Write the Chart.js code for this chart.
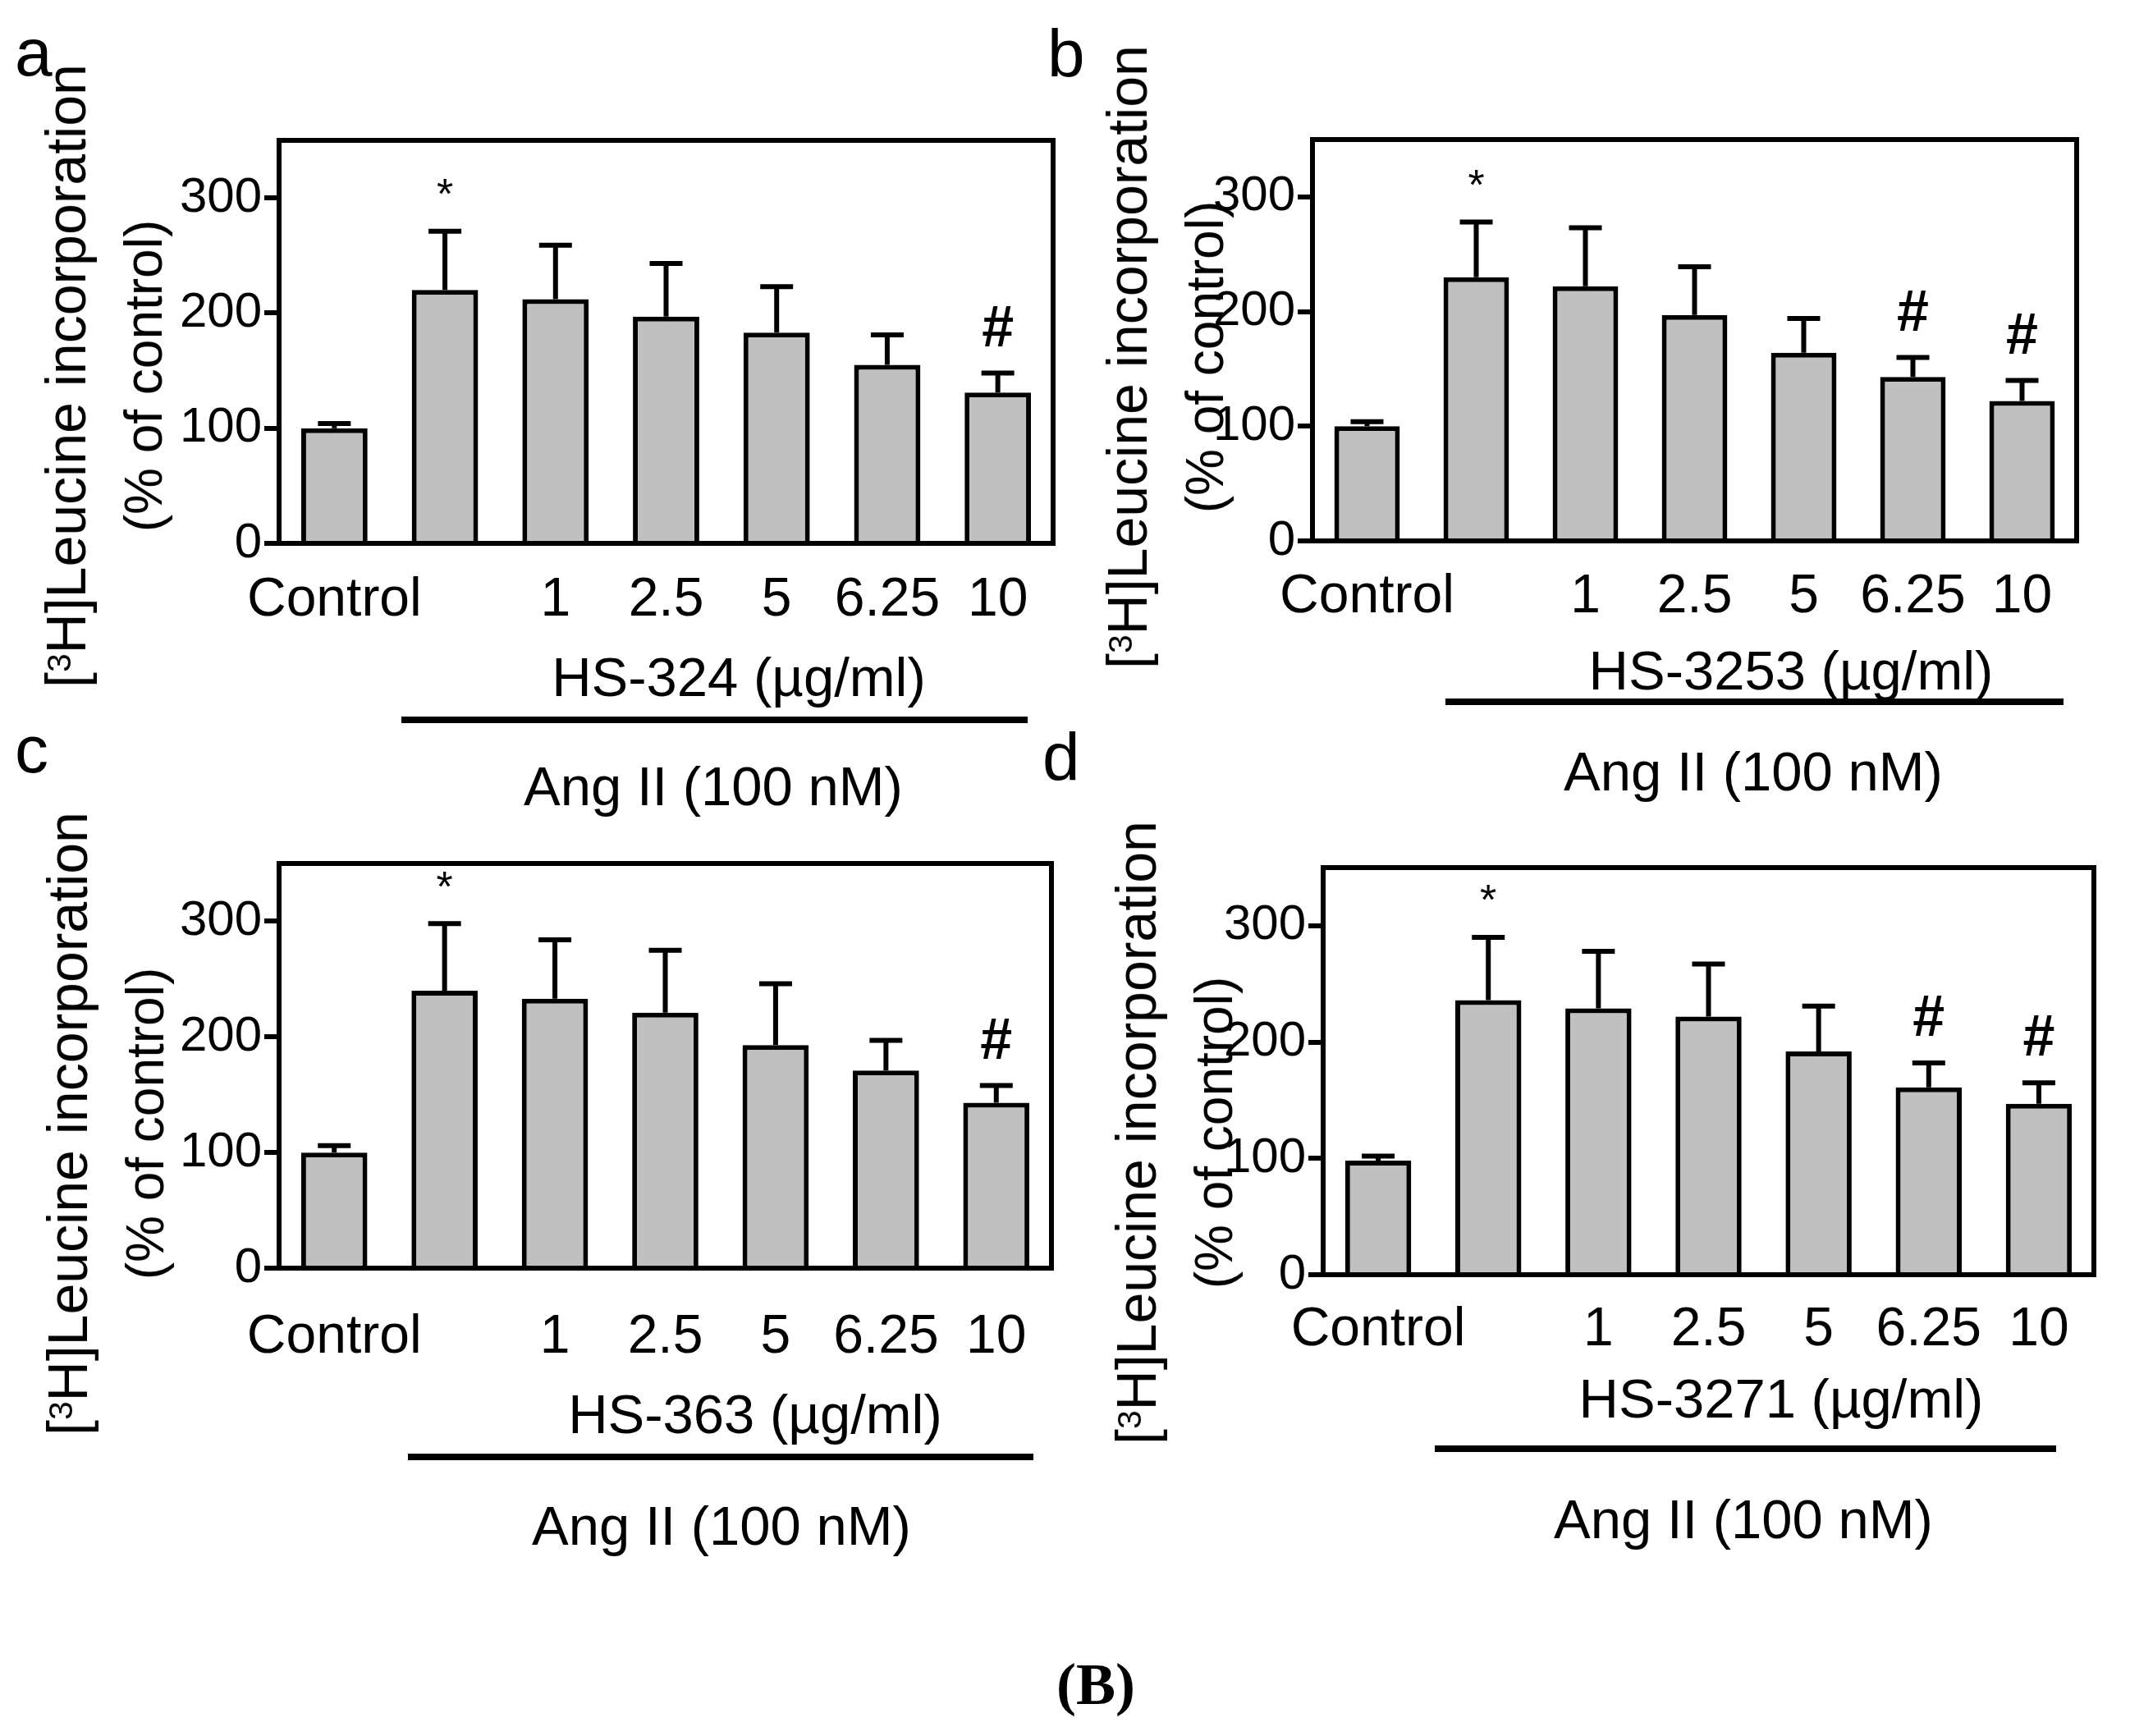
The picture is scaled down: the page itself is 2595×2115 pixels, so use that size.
<!DOCTYPE html>
<html>
<head>
<meta charset="utf-8">
<title>[3H]Leucine incorporation</title>
<script src="https://cdn.jsdelivr.net/npm/chart.js@4.4.0/dist/chart.umd.min.js"></script>
<style>
  body { margin: 0; background: #fff; width: 2595px; height: 2115px; position: relative; overflow: hidden;
         font-family: "Liberation Sans", Arial, sans-serif; color: #000; }
  canvas { position: absolute; }
  .letter { position: absolute; font-size: 82px; line-height: 82px; }
  .ytitle { position: absolute; font-size: 64px; line-height: 85px; text-align: center; white-space: nowrap;
            transform: translate(-50%, -50%) rotate(-90deg); }
  .ytitle .l1 { font-size: 68px; }
  .sup { position: relative; top: -0.45em; font-size: 0.6em; }
  .lbl { position: absolute; font-size: 67px; line-height: 67px; white-space: nowrap; transform: translate(-50%, -50%); }
  .rule { position: absolute; height: 8px; background: #000; }
  .fig { position: absolute; font-family: "Liberation Serif", "Times New Roman", serif; font-weight: bold;
         font-size: 72px; line-height: 72px; transform: translate(-50%, -50%); }
</style>
</head>
<body>
<script>
"use strict";

const FONT = '"Liberation Sans", Arial, sans-serif';

// Data

const categories = ["Control", "", "1", "2.5", "5", "6.25", "10"];
const tickValues = [0, 100, 200, 300];
const compounds = ["HS-324", "HS-3253", "HS-363", "HS-3271"];

const meansA = [100, 220, 212, 197, 183, 155, 131];
const semA = [4, 51, 47, 46, 40, 26, 17];
const marksA = ["", "*", "", "", "", "", "#"];

const meansB = [100, 230, 222, 197, 164, 143, 122];
const semB = [4, 48, 51, 42, 30, 17, 18];
const marksB = ["", "*", "", "", "", "#", "#"];

const meansC = [100, 240, 233, 221, 193, 171, 143];
const semC = [6, 58, 51, 54, 53, 26, 15];
const marksC = ["", "*", "", "", "", "", "#"];

const meansD = [98, 236, 229, 222, 192, 161, 147];
const semD = [4, 54, 49, 45, 39, 21, 18];
const marksD = ["", "*", "", "", "", "#", "#"];

// Layout of the four panels (page pixels)

const panels = [
  { letter: "a", means: meansA, sem: semA, marks: marksA, compound: compounds[0],
    area: [340, 171, 1283, 662], labelGap: 30, letterPos: [18, 23], titleAt: [128, 458],
    compoundAt: [900, 824], rule: [489, 1252, 877], angAt: [869, 957] },
  { letter: "b", means: meansB, sem: semB, marks: marksB, compound: compounds[1],
    area: [1599, 170, 2530, 659], labelGap: 29, letterPos: [1276, 24], titleAt: [1421, 435],
    compoundAt: [2182, 816], rule: [1761, 2514, 855], angAt: [2136, 939] },
  { letter: "c", means: meansC, sem: semC, marks: marksC, compound: compounds[2],
    area: [340, 1052, 1281, 1545], labelGap: 45, letterPos: [18, 872], titleAt: [130, 1369],
    compoundAt: [920, 1722], rule: [497, 1259, 1775], angAt: [879, 1858] },
  { letter: "d", means: meansD, sem: semD, marks: marksD, compound: compounds[3],
    area: [1612, 1057, 2551, 1553], labelGap: 28, letterPos: [1270, 881], titleAt: [1432, 1380],
    compoundAt: [2170, 1703], rule: [1748, 2505, 1765], angAt: [2124, 1850] },
];

const markStyle = {
  "*": { size: 52, lift: 42, weight: "normal" },
  "#": { size: 70, lift: 52, weight: "bold" },
};

// Error bars, box and significance marks

const frame = {
  id: "frame",
  afterDatasetsDraw(chart, args, opts) {
    const { ctx, chartArea: a, scales } = chart;
    const y = scales.y;
    const meta = chart.getDatasetMeta(0);
    ctx.save();
    ctx.strokeStyle = "#000";
    ctx.fillStyle = "#000";
    ctx.lineWidth = 6;
    meta.data.forEach((bar, i) => {
      const top = y.getPixelForValue(opts.means[i] + opts.sem[i]);
      ctx.beginPath();
      ctx.moveTo(bar.x, bar.y);
      ctx.lineTo(bar.x, top);
      ctx.moveTo(bar.x - 20, top);
      ctx.lineTo(bar.x + 20, top);
      ctx.stroke();
      const m = opts.marks[i];
      if (m) {
        const st = markStyle[m];
        ctx.font = `${st.weight} ${st.size}px ${FONT}`;
        ctx.textAlign = "center";
        ctx.textBaseline = "middle";
        ctx.fillText(m, bar.x, top - st.lift);
      }
    });
    ctx.strokeRect(a.left, a.top, a.right - a.left, a.bottom - a.top);
    ctx.restore();
  },
};

const addDiv = (cls, html, left, top) => {
  const d = document.createElement("div");
  d.className = cls;
  d.innerHTML = html;
  d.style.left = left + "px";
  d.style.top = top + "px";
  document.body.appendChild(d);
  return d;
};

const makePanel = (p) => {
  const padL = 250, padT = 50, padR = 40, axisH = 160;
  const [x0, y0, x1, y1] = p.area;
  const w = x1 - x0 + padL + padR;
  const h = y1 - y0 + padT + axisH;
  const cv = document.createElement("canvas");
  cv.width = w;
  cv.height = h;
  cv.style.left = x0 - padL + "px";
  cv.style.top = y0 - padT + "px";
  document.body.appendChild(cv);

  new Chart(cv, {
    type: "bar",
    data: {
      labels: categories,
      datasets: [{
        data: p.means,
        backgroundColor: "#c0c0c0",
        borderColor: "#000",
        borderWidth: 6,
        borderSkipped: "bottom",
        barPercentage: 0.6,
        categoryPercentage: 1,
      }],
    },
    options: {
      responsive: false,
      animation: false,
      devicePixelRatio: 1,
      layout: { padding: { top: padT, right: padR, left: 0, bottom: 0 } },
      plugins: {
        legend: { display: false },
        tooltip: { enabled: false },
        frame: { means: p.means, sem: p.sem, marks: p.marks },
      },
      scales: {
        x: {
          grid: { display: false, drawTicks: false },
          border: { display: false },
          ticks: { color: "#000", font: { size: 66, family: FONT }, padding: p.labelGap,
                   maxRotation: 0, autoSkip: false },
          afterFit: (s) => { s.height = axisH; },
        },
        y: {
          min: 0,
          max: 350,
          grid: { drawOnChartArea: false, color: "#000", lineWidth: 6, tickLength: 18 },
          border: { display: false },
          ticks: { color: "#000", font: { size: 60, family: FONT }, padding: 3 },
          afterBuildTicks: (s) => { s.ticks = tickValues.map((v) => ({ value: v })); },
          afterFit: (s) => { s.width = padL; },
        },
      },
    },
    plugins: [frame],
  });

  addDiv("letter", p.letter, p.letterPos[0], p.letterPos[1]);
  addDiv("ytitle",
    '<span class="l1">[<span class="sup">3</span>H]Leucine incorporation</span><br>(% of control)',
    p.titleAt[0], p.titleAt[1]);
  addDiv("lbl", `${p.compound} (µg/ml)`, p.compoundAt[0], p.compoundAt[1]);
  const r = addDiv("rule", "", p.rule[0], p.rule[2] - 4);
  r.style.width = p.rule[1] - p.rule[0] + "px";
  addDiv("lbl", "Ang II (100 nM)", p.angAt[0], p.angAt[1]);
};

panels.forEach(makePanel);
addDiv("fig", "(B)", 1335, 2052);
</script>
</body>
</html>
